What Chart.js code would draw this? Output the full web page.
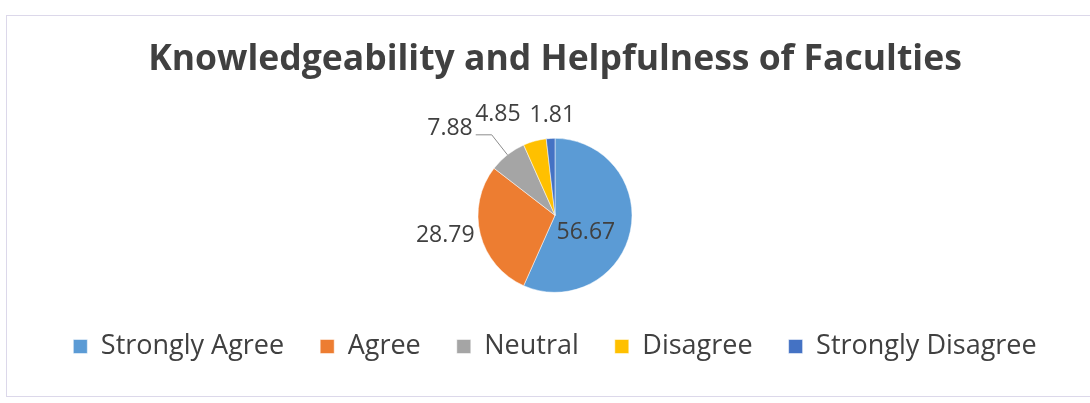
<!DOCTYPE html>
<html>
<head>
<meta charset="utf-8">
<script src="https://cdn.jsdelivr.net/npm/chart.js@4.4.1/dist/chart.umd.min.js"></script>
<style>
  html, body { margin: 0; padding: 0; background: #ffffff; }
  #wrap { position: relative; width: 1090px; height: 403px; overflow: hidden; }
  #frame { position: absolute; left: 6px; top: 15px; width: 1100px; height: 382px; border: 1px solid #dcd8ea; box-sizing: border-box; }
  canvas { position: absolute; left: 0; top: 0; }
</style>
</head>
<body>
<div id="wrap">
  <div id="frame"></div>
  <canvas id="c" width="1090" height="403"></canvas>
</div>
<script>
const chartTitle = 'Knowledgeability and Helpfulness of Faculties';
const categories = ['Strongly Agree', 'Agree', 'Neutral', 'Disagree', 'Strongly Disagree'];
const values = [56.67, 28.79, 7.88, 4.85, 1.81];
const colors = ['#5B9BD5', '#ED7D31', '#A5A5A5', '#FFC000', '#4472C4'];

const FONT = '"Open Sans", sans-serif';
const TEXT = '#404040';

// label placement styles per slice: radial factor k, pixel nudge, leader-line flag
const labelStyle = [
  { k: 0.45, dx: -3, dy: 10, align: 'center' },
  { k: 1.47, dx: 0, dy: -8, align: 'center' },
  { k: 1.33, dx: 0, dy: 0, align: 'right', leader: true },
  { k: 1.29, dx: -31, dy: -5, align: 'center' },
  { k: 1.29, dx: 3, dy: -1, align: 'center' }
];

const dataLabels = {
  id: 'dataLabels',
  afterDatasetsDraw(chart) {
    const ctx = chart.ctx;
    const meta = chart.getDatasetMeta(0);
    const ds = chart.data.datasets[0];
    ctx.save();
    ctx.font = '23px ' + FONT;
    ctx.fillStyle = TEXT;
    ctx.textBaseline = 'middle';
    meta.data.forEach((arc, i) => {
      const p = arc.getProps(['x', 'y', 'startAngle', 'endAngle', 'outerRadius'], true);
      const mid = (p.startAngle + p.endAngle) / 2;
      const cx = Math.cos(mid), cy = Math.sin(mid);
      const st = labelStyle[i];
      const txt = ds.data[i].toFixed(2);
      if (st.leader) {
        const ex = p.x + cx * p.outerRadius, ey = p.y + cy * p.outerRadius;
        const bx = p.x + cx * p.outerRadius * st.k, by = p.y + cy * p.outerRadius * st.k;
        ctx.strokeStyle = '#8c8c8c';
        ctx.lineWidth = 1;
        ctx.beginPath();
        ctx.moveTo(ex, ey);
        ctx.lineTo(bx, by);
        ctx.lineTo(bx - 16, by);
        ctx.stroke();
        ctx.textAlign = 'right';
        ctx.fillText(txt, bx - 19, by - 6);
      } else {
        const x = p.x + cx * p.outerRadius * st.k + st.dx;
        const y = p.y + cy * p.outerRadius * st.k + st.dy;
        ctx.textAlign = st.align;
        ctx.fillText(txt, x, y);
      }
    });
    ctx.restore();
  }
};

new Chart(document.getElementById('c'), {
  type: 'pie',
  data: {
    labels: categories,
    datasets: [{
      data: values,
      backgroundColor: colors,
      borderColor: '#ffffff',
      borderWidth: 0.5,
      radius: 77
    }]
  },
  options: {
    responsive: false,
    animation: false,
    layout: { padding: { top: 0, bottom: 33, left: 20, right: 0 } },
    plugins: {
      title: {
        display: true,
        text: chartTitle,
        color: TEXT,
        font: { family: FONT, size: 35.5, weight: 'bold', lineHeight: 1.2 },
        padding: { top: 38.7, bottom: 52.4 }
      },
      legend: {
        position: 'bottom',
        labels: {
          color: TEXT,
          font: { family: FONT, size: 27 },
          boxWidth: 14,
          boxHeight: 14,
          padding: 36
        }
      },
      tooltip: { enabled: false }
    }
  },
  plugins: [dataLabels]
});
</script>
</body>
</html>
